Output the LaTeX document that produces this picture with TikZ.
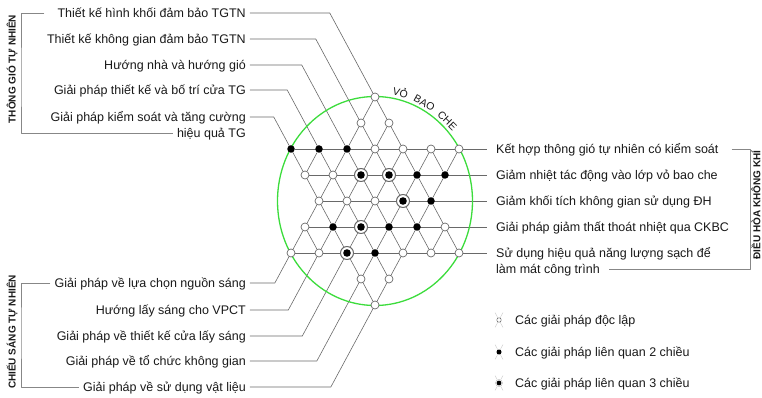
\documentclass[tikz,border=0pt]{standalone}
\usepackage{fontspec}
\setmainfont{Liberation Sans}
\usepackage{tikz}
\usetikzlibrary{positioning}
\pgfdeclarelayer{back}
\pgfsetlayers{back,main}
\definecolor{linegray}{RGB}{105,105,105}
\definecolor{txtgray}{RGB}{25,25,25}
\definecolor{shellgreen}{RGB}{60,220,60}

\begin{document}
\begin{tikzpicture}[x=1pt,y=1pt,line join=bevel,
  solo/.style={circle,draw=linegray,fill=white,line width=.7pt,minimum size=8pt,inner sep=0pt},
  pair/.style={circle,fill=black,minimum size=7.5pt,inner sep=0pt},
  triple/.style={circle,draw=linegray,fill=white,line width=1pt,minimum size=13pt,inner sep=0pt,
    path picture={\fill[black] (path picture bounding box.center) circle (#1);}},
  triple/.default=3.8pt,
  lbl/.style={font=\fontsize{12.5}{15}\selectfont,text=txtgray,inner xsep=4pt,inner ysep=1pt,text height=9pt,text depth=0pt},
  rlbl/.style={lbl,inner xsep=9pt},
  grp/.style={font=\fontsize{10}{12}\selectfont\bfseries,text=txtgray,rotate=90,inner sep=0pt},
  shell/.style={font=\fontsize{10.5}{12}\selectfont,text=txtgray,anchor=south,inner sep=0pt},
  wire/.style={draw=linegray,line width=.6pt},
  faint/.style={draw=linegray!35,line width=.4pt},
  bracket/.style={draw=linegray!80,line width=.6pt}]
\useasboundingbox (-375,-197) rectangle (387,201);

\draw[shellgreen,line width=1.3pt] (0,0) ellipse (97.5pt and 104.5pt);
\node[shell,rotate=-15] (sh1) at (76:101pt and 107pt) {VỎ};
\node[shell,rotate=-29] (sh2) at (62:101pt and 107pt) {BAO};
\node[shell,rotate=-45] (sh3) at (46.5:101pt and 107pt) {CHE};

\foreach \nm/\i/\j/\kind in {
  a1/0/4/solo, b1/-1/3/solo, b2/1/3/solo,
  c1/-6/2/pair, c2/-4/2/pair, c3/-2/2/pair, c4/0/2/solo, c5/2/2/solo, c6/4/2/solo, c7/6/2/solo,
  d1/-5/1/solo, d2/-3/1/solo, d3/-1/1/triple, d4/1/1/triple, d5/3/1/pair, d6/5/1/pair,
  e1/-4/0/solo, e2/-2/0/solo, e3/0/0/solo, e4/2/0/triple, e5/4/0/pair,
  f1/-5/-1/solo, f2/-3/-1/pair, f3/-1/-1/triple, f4/1/-1/pair, f5/3/-1/pair, f6/5/-1/solo,
  g1/-6/-2/solo, g2/-4/-2/solo, g3/-2/-2/triple, g4/0/-2/pair, g5/2/-2/solo, g6/4/-2/solo, g7/6/-2/solo,
  h1/-1/-3/solo, h2/1/-3/solo, i1/0/-4/solo}
  \node[\kind] (\nm) at ({14*(\i)},{26*(\j)}) {};

\node[lbl,anchor=east] (tl1) at (-125,188) {Thiết kế hình khối đảm bảo TGTN};
\node[lbl,anchor=east] (tl2) at (-125,162) {Thiết kế không gian đảm bảo TGTN};
\node[lbl,anchor=east] (tl3) at (-125,136) {Hướng nhà và hướng gió};
\node[lbl,anchor=east] (tl4) at (-125,111) {Giải pháp thiết kế và bố trí cửa TG};
\node[lbl,anchor=east] (tl5) at (-125,84) {Giải pháp kiểm soát và tăng cường};
\node[lbl,below=5pt of tl5.south east,anchor=north east] (tl5b) {hiệu quả TG};

\node[lbl,anchor=east] (bl1) at (-125,-82) {Giải pháp về lựa chọn nguồn sáng};
\node[lbl,anchor=east] (bl2) at (-125,-109) {Hướng lấy sáng cho VPCT};
\node[lbl,anchor=east] (bl3) at (-125,-135) {Giải pháp về thiết kế cửa lấy sáng};
\node[lbl,anchor=east] (bl4) at (-125,-160) {Giải pháp về tổ chức không gian};
\node[lbl,anchor=east] (bl5) at (-125,-186) {Giải pháp về sử dụng vật liệu};

\node[rlbl,anchor=west] (r1) at (112,52) {Kết hợp thông gió tự nhiên có kiểm soát};
\node[rlbl,anchor=west] (r2) at (112,26) {Giảm nhiệt tác động vào lớp vỏ bao che};
\node[rlbl,anchor=west] (r3) at (112,0) {Giảm khối tích không gian sử dụng ĐH};
\node[rlbl,anchor=west] (r4) at (112,-26) {Giải pháp giảm thất thoát nhiệt qua CKBC};
\node[rlbl,anchor=west] (r5) at (112,-52) {Sử dụng hiệu quả năng lượng sạch để};
\node[rlbl,below=4.5pt of r5.south west,anchor=north west] (r5b) {làm mát công trình};

\node[grp] (gv) at (-363,132) {THÔNG GIÓ TỰ NHIÊN};
\node[grp] (gl) at (-363,-131) {CHIẾU SÁNG TỰ NHIÊN};
\node[grp] (ga) at (381,-4) {ĐIỀU HÒA KHÔNG KHÍ};

\node[solo,minimum size=4.5pt,line width=.5pt] (lg1) at (124,-119) {};
\node[pair,minimum size=5pt] (lg2) at (124,-151) {};
\node[triple=2.4pt,minimum size=7pt,line width=.4pt,draw=linegray!50] (lg3) at (124,-182) {};
\node[lbl,anchor=west] (lt1) at (136,-119) {Các giải pháp độc lập};
\node[lbl,anchor=west] (lt2) at (136,-151) {Các giải pháp liên quan 2 chiều};
\node[lbl,anchor=west] (lt3) at (136,-182) {Các giải pháp liên quan 3 chiều};

\begin{pgfonlayer}{back}
\foreach \a/\b in {c1/r1,d1/r2,e1/r3,f1/r4,g1/r5}
  \draw[wire] (\a) -- (\b);
\foreach \a/\b in {d1/c2,d6/c6,g2/f1,g6/f6}
  \draw[wire] (\a) -- (\b);
\foreach \t/\a/\b in {tl1/a1/g7,tl2/b1/g6,tl3/c3/g5,tl4/c2/h2,tl5/c1/i1,
                      bl1/g1/a1,bl2/g2/b2,bl3/g3/c5,bl4/h1/c6,bl5/i1/c7}
  \draw[wire] (\t) -- (intersection of \t.east--\t.west and \a--\b) -- (\b);
\foreach \m in {lg1,lg2,lg3}
  \draw[faint] ([shift={(-4,7.5)}]\m.center) -- ([shift={(4,-7.5)}]\m.center)
               ([shift={(4,7.5)}]\m.center) -- ([shift={(-4,-7.5)}]\m.center);
\end{pgfonlayer}

\draw[bracket] ([xshift=-9pt]tl1.west) -| (-354,120) |- (tl5b.west);
\draw[bracket] (bl1.west) -| (-354,-130) |- (bl5.west);
\draw[bracket] ([xshift=4pt]r1.east) -| (375.5,0) |- (r5b.east);
\end{tikzpicture}
\end{document}
